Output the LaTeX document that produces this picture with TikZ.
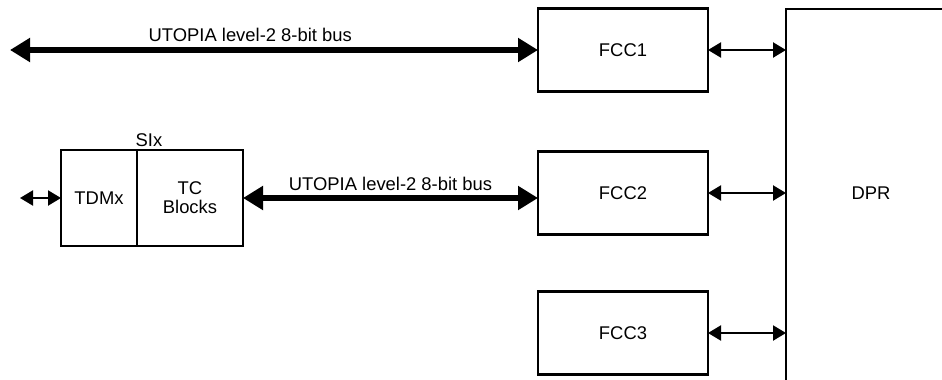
\documentclass[tikz,border=0pt]{standalone}
\usepackage{fontspec}
\setmainfont{Liberation Sans}
\usetikzlibrary{arrows.meta, positioning}

\begin{document}
\begin{tikzpicture}[x=1pt, y=-1pt, font=\fontsize{18.4}{21}\selectfont,
    blk/.style={rectangle, draw=black, line width=2.2pt, outer sep=0pt,
        minimum width=170pt, minimum height=83pt},
    bus/.style={line width=6pt,
        {Triangle[length=20pt,width=23pt]}-{Triangle[length=20pt,width=23pt]}},
    link/.style={line width=2.2pt,
        {Triangle[length=13pt,width=15pt]}-{Triangle[length=13pt,width=15pt]}}]
    \useasboundingbox (0,0) rectangle (942,380);
    \clip (0,0) rectangle (942,380);

    % FCCs and DPR
    \node[blk] (fcc1) at (623,50) {FCC1};
    \node[blk] (fcc2) at (623,193) {FCC2};
    \node[blk] (fcc3) at (623,333) {FCC3};
    \node[blk, minimum height=400pt, anchor=north west] (dpr) at (786,9) {};
    \node (dprtext) at (dpr.center |- fcc2) {DPR};

    % SIx block
    \node[blk, minimum width=76pt, minimum height=96pt] (tdm) at (99,198) {TDMx};
    \node[blk, minimum width=106pt, minimum height=96pt, anchor=west, align=center,
        font=\fontsize{18.4}{19}\selectfont] (tc) at (tdm.east) {TC\\Blocks};
    \node[above=0pt of tc.north west, xshift=12pt] (six) {SIx};

    % buses and links
    \coordinate (busend) at (10,50);
    \draw[bus] (busend) -- node[above, pos=0.455, yshift=2pt] (bustop) {UTOPIA level-2 8-bit bus} (fcc1.west);
    \draw[bus] (tc.east) -- node[above, yshift=1pt] (busmid) {UTOPIA level-2 8-bit bus} (tc.east -| fcc2.west);
    \coordinate (tdmend) at (20,198);
    \draw[link] (tdmend) -- (tdm.west);
    \foreach \i in {1,2,3}
        \draw[link] (fcc\i.east) -- (fcc\i.east -| dpr.west);
\end{tikzpicture}
\end{document}
